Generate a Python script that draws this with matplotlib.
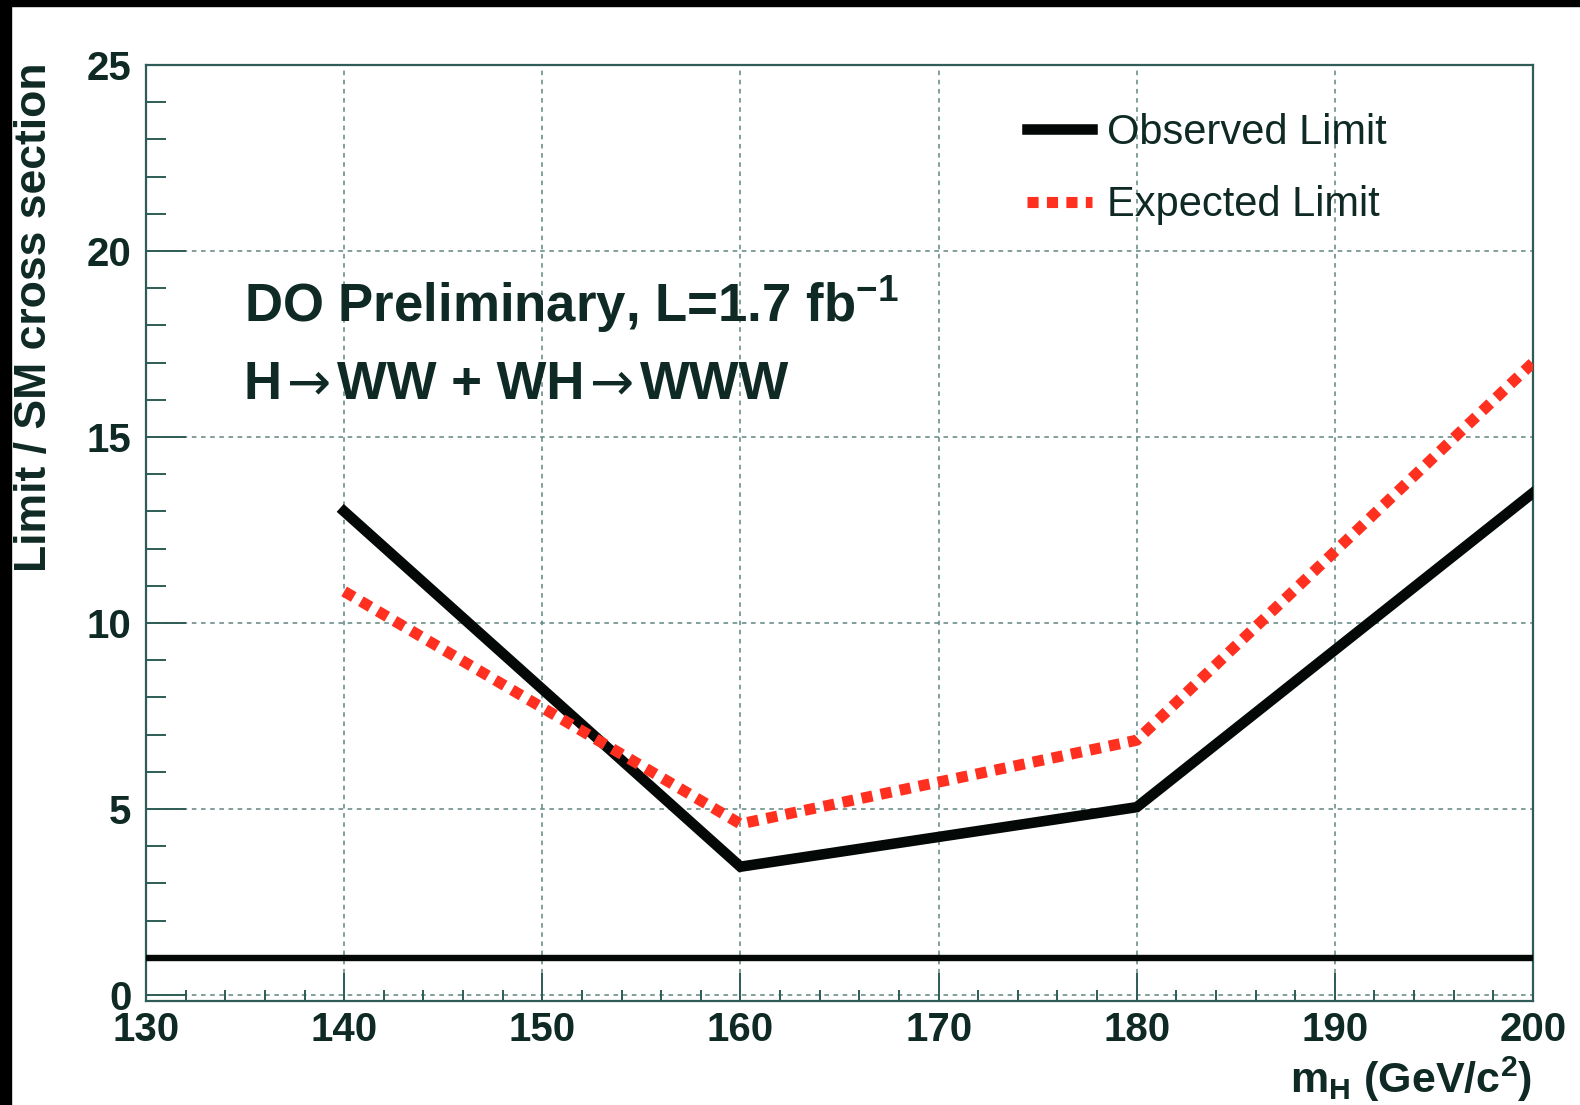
import matplotlib
matplotlib.use("Agg")
import matplotlib.pyplot as plt
from matplotlib.patches import Rectangle
from matplotlib.ticker import MultipleLocator

# Higgs mass points (GeV/c^2) and 95% CL limits relative to the SM cross section
mass = [140, 160, 180, 200]
observed = [13.0, 3.45, 5.05, 13.5]
expected = [10.85, 4.6, 6.85, 17.0]
sm_ratio = 1.0

x_ticks = [130, 140, 150, 160, 170, 180, 190, 200]
y_ticks = [0, 5, 10, 15, 20, 25]

TEXT = "#0f2a24"
FRAME = "#2f5c56"
GRID = "#5f8580"
RED = "#ff3020"
BLACK = "#040807"

plt.rcParams["font.family"] = ["Liberation Sans", "DejaVu Sans"]
plt.rcParams["mathtext.fontset"] = "custom"
plt.rcParams["mathtext.rm"] = "Liberation Sans:bold"
plt.rcParams["mathtext.it"] = "Liberation Sans:bold"
plt.rcParams["mathtext.bf"] = "Liberation Sans:bold"

W, H = 1580, 1105
fig = plt.figure(figsize=(W / 100, H / 100), dpi=100)
fig.patch.set_facecolor("white")

ax = fig.add_axes([146 / W, 1 - 1001 / H, (1533 - 146) / W, (1001 - 65) / H])
ax.set_xlim(130, 200)
ax.set_ylim(-0.16, 25)

# dashed grid at the major ticks
for xv in x_ticks[1:-1]:
    ax.axvline(xv, color=GRID, lw=1.1, ls=(0, (3, 3)), zorder=1)
for yv in y_ticks[:-1]:
    ax.axhline(yv, color=GRID, lw=1.1, ls=(0, (3, 3)), zorder=1)

ax.axhline(sm_ratio, color=BLACK, lw=4.6, zorder=3)
ax.plot(mass, observed, color=BLACK, lw=7.6, solid_joinstyle="miter",
        label="Observed Limit", zorder=4)
ax.plot(mass, expected, color=RED, lw=8.0, ls=(0, (1.0, 0.75)),
        dash_capstyle="butt", label="Expected Limit", zorder=4)

ax.xaxis.set_major_locator(MultipleLocator(10))
ax.xaxis.set_minor_locator(MultipleLocator(2))
ax.yaxis.set_major_locator(MultipleLocator(5))
ax.yaxis.set_minor_locator(MultipleLocator(1))
ax.set_xticks(x_ticks)
ax.set_yticks(y_ticks)

ax.tick_params(axis="both", which="both", direction="in", color=FRAME,
               labelcolor=TEXT, width=1.4)
ax.tick_params(axis="x", which="major", length=20, pad=7.5, labelsize=29)
ax.tick_params(axis="x", which="minor", length=8)
ax.tick_params(axis="y", which="major", length=29, pad=10.5, labelsize=29)
ax.tick_params(axis="y", which="minor", length=14.5)
for lab in ax.get_xticklabels() + ax.get_yticklabels():
    lab.set_fontweight("bold")

for sp in ax.spines.values():
    sp.set_color(FRAME)
    sp.set_linewidth(1.6)

leg = ax.legend(loc="upper left", bbox_to_anchor=(1027 / W, 1 - 113 / H),
                bbox_transform=fig.transFigure, frameon=False, fontsize=30,
                handlelength=1.55, handletextpad=0.38, labelspacing=0.77,
                borderpad=0, borderaxespad=0)
for t in leg.get_texts():
    t.set_color(TEXT)

fig.text(244 / W, 1 - 322 / H, r"DO Preliminary, L=1.7 fb$^{-1}$",
         fontsize=38, fontweight="bold", color=TEXT, ha="left", va="baseline")

# process line: bold text pieces joined by thin arrows
base = 1 - 399 / H
pieces = ["H", "→", "WW + WH", "→", "WWW"]
prev = fig.text(244 / W, base, pieces[0], fontsize=38, fontweight="bold",
                color=TEXT, ha="left", va="baseline")
for txt in pieces[1:]:
    is_arrow = txt == "→"
    prev = ax.annotate(
        txt, xy=(1, base), xycoords=(prev, "figure fraction"),
        xytext=(3.5 if is_arrow else 4.5, 0), textcoords="offset points",
        fontsize=38, fontweight="normal" if is_arrow else "bold",
        family=["DejaVu Sans"] if is_arrow else ["Liberation Sans", "DejaVu Sans"],
        color=TEXT, ha="left", va="baseline", annotation_clip=False)

fig.text(35 / W, 1 - 62 / H, "Limit / SM cross section", rotation=90,
         fontsize=32, fontweight="bold", color=TEXT, ha="center", va="top")
fig.text(1532 / W, 1 - 1093 / H, r"m$_{\rm H}$ (GeV/c$^{2}$)",
         fontsize=31, fontweight="bold", color=TEXT, ha="right", va="baseline")

# dark strips along the top and left edges
fig.patches.append(Rectangle((0, 1 - 6 / H), 1, 6 / H, transform=fig.transFigure,
                             color="black", zorder=10))
fig.patches.append(Rectangle((0, 0), 11 / W, 1, transform=fig.transFigure,
                             color="black", zorder=10))

fig.savefig("out.png", dpi=100)
